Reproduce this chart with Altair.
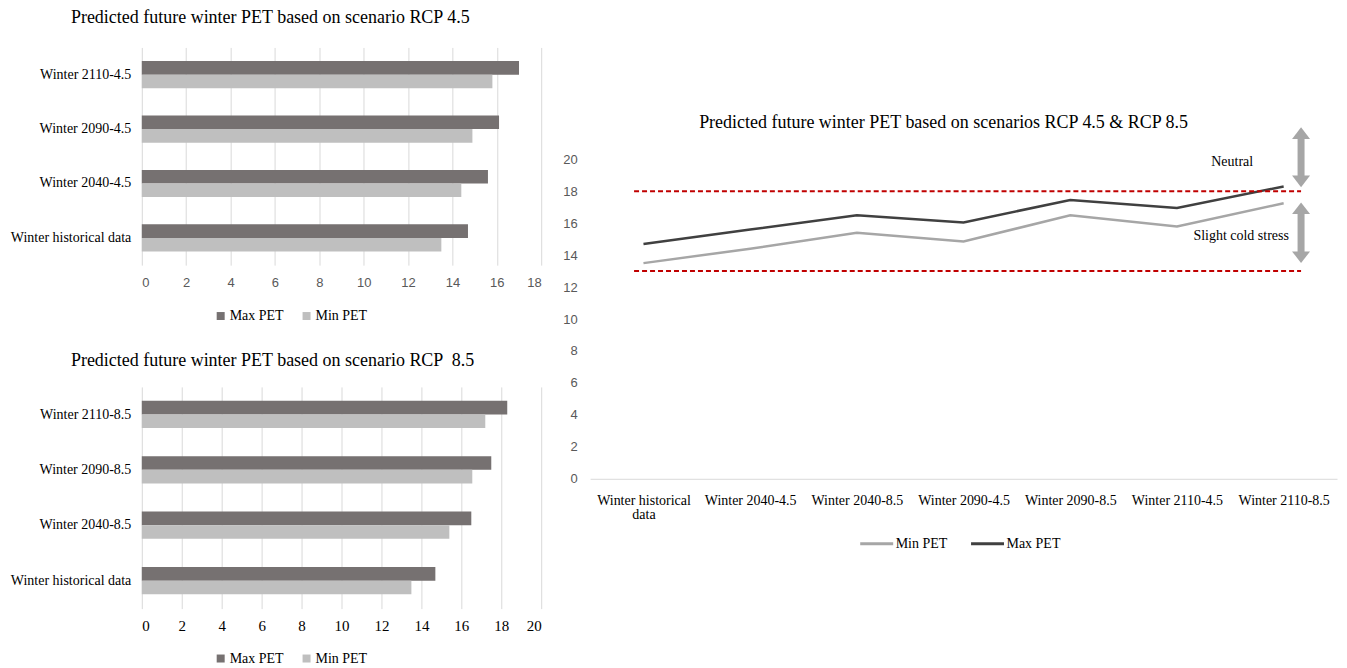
import altair as alt
import pandas as pd

series_names = ["Max PET", "Min PET"]

cats_45 = ["Winter 2110-4.5", "Winter 2090-4.5", "Winter 2040-4.5", "Winter historical data"]
max_45 = [17.0, 16.1, 15.6, 14.7]
min_45 = [15.8, 14.9, 14.4, 13.5]

cats_85 = ["Winter 2110-8.5", "Winter 2090-8.5", "Winter 2040-8.5", "Winter historical data"]
max_85 = [18.3, 17.5, 16.5, 14.7]
min_85 = [17.2, 16.55, 15.4, 13.5]

line_cats = ["Winter historical data", "Winter 2040-4.5", "Winter 2040-8.5", "Winter 2090-4.5",
             "Winter 2090-8.5", "Winter 2110-4.5", "Winter 2110-8.5"]
line_max = [14.7, 15.6, 16.5, 16.05, 17.45, 16.95, 18.3]
line_min = [13.5, 14.4, 15.4, 14.85, 16.5, 15.8, 17.25]
line_series = ["Min PET", "Max PET"]
line_ticks = [0, 2, 4, 6, 8, 10, 12, 14, 16, 18, 20]

comfort_bounds = [18, 13]
zone_labels = ["Neutral", "Slight cold stress"]
zone_label_y = [19.8, 15.2]
arrow_up_tips = [22.0, 17.3]
arrow_down_tips = [18.25, 13.5]
arrow_shaft_top = [21.4, 16.7]
arrow_shaft_bottom = [18.85, 14.1]

SERIF = "Liberation Serif"
SANS = "Liberation Sans"


def bar_chart(cats, maxv, minv, xmax, title, title_offset, tick_font, tick_size,
              tick_color, tick_pad, legend_y, h):
    rows = []
    for c, a, b in zip(cats, maxv, minv):
        rows.append({"cat": c, "series": series_names[0], "value": a})
        rows.append({"cat": c, "series": series_names[1], "value": b})
    df = pd.DataFrame(rows)
    return alt.Chart(df, title=alt.Title(
        title, font=SERIF, fontSize=18, fontWeight="normal", color="black",
        anchor="start", frame="group", dx=-71, offset=title_offset)).mark_bar().encode(
        x=alt.X("value:Q", scale=alt.Scale(domain=[0, xmax], nice=False),
                axis=alt.Axis(values=list(range(0, xmax + 1, 2)), title=None, domain=False,
                              ticks=False, grid=True, gridColor="#d9d9d9",
                              labelFont=tick_font, labelFontSize=tick_size,
                              labelColor=tick_color, labelPadding=tick_pad)),
        y=alt.Y("cat:N", sort=cats, scale=alt.Scale(paddingInner=0.5, paddingOuter=0.25),
                axis=alt.Axis(title=None, domain=False, ticks=False, labelFont=SERIF,
                              labelFontSize=14, labelColor="black", labelPadding=11,
                              labelLimit=0)),
        yOffset=alt.YOffset("series:N", sort=series_names),
        color=alt.Color("series:N",
                        scale=alt.Scale(domain=series_names, range=["#767171", "#bfbfbf"]),
                        legend=alt.Legend(orient="none", legendX=72, legendY=legend_y,
                                          direction="horizontal", title=None,
                                          symbolType="square", symbolSize=64,
                                          labelFont=SERIF, labelFontSize=14,
                                          labelColor="black", columnPadding=15,
                                          labelOffset=2)),
    ).properties(width=400, height=h)


top = bar_chart(cats_45, max_45, min_45, 18,
                "Predicted future winter PET based on scenario RCP 4.5", 20,
                SANS, 13, "#595959", 11, 262, 218)
bottom = bar_chart(cats_85, max_85, min_85, 20,
                   "Predicted future winter PET based on scenario RCP \u00a08.5", 17,
                   SERIF, 15, "black", 10, 265, 222)

# line chart
lrows = []
for c, a, b in zip(line_cats, line_max, line_min):
    lrows.append({"cat": c, "series": "Max PET", "value": a})
    lrows.append({"cat": c, "series": "Min PET", "value": b})
ldf = pd.DataFrame(lrows)

y_scale = alt.Scale(domain=[0, 20], nice=False)
y_axis = alt.Axis(values=line_ticks, title=None, domain=False, ticks=False, grid=False,
                  labelFont=SANS, labelFontSize=13, labelColor="#595959",
                  labelPadding=13, labelOverlap=False)

lines = alt.Chart(ldf).mark_line(strokeWidth=2.5).encode(
    x=alt.X("cat:N", sort=line_cats, scale=alt.Scale(padding=0.5),
            axis=alt.Axis(title=None, labelAngle=0, domainColor="#d9d9d9", ticks=False,
                          labelFont=SERIF, labelFontSize=14, labelColor="black",
                          labelPadding=15, labelLineHeight=14, labelLimit=0,
                          labelExpr="datum.value == 'Winter historical data' ? ['Winter historical', 'data'] : datum.value")),
    y=alt.Y("value:Q", scale=y_scale, axis=y_axis),
    color=alt.Color("series:N",
                    scale=alt.Scale(domain=line_series, range=["#a6a6a6", "#404040"]),
                    legend=alt.Legend(orient="none", legendX=269, legendY=367,
                                      direction="horizontal", title=None,
                                      symbolType="stroke", symbolSize=1089,
                                      symbolStrokeWidth=3, labelFont=SERIF,
                                      labelFontSize=14, labelColor="black",
                                      columnPadding=17, labelOffset=1)),
)

rules = alt.Chart(pd.DataFrame({"bound": comfort_bounds})).mark_rule(
    color="#c00000", strokeWidth=2, strokeDash=[5, 3]).encode(
    y=alt.Y("bound:Q", scale=y_scale, axis=y_axis), x=alt.value(44), x2=alt.value(712))

shafts = alt.Chart(pd.DataFrame({"y1": arrow_shaft_top, "y2": arrow_shaft_bottom})).mark_rule(
    color="#a6a6a6", strokeWidth=7).encode(
    x=alt.value(712), y=alt.Y("y1:Q", scale=y_scale, axis=y_axis), y2="y2:Q")

heads_up = alt.Chart(pd.DataFrame({"tip": arrow_up_tips})).mark_point(
    shape="M0,0L1,1.3L-1,1.3Z", filled=True, size=324, color="#a6a6a6", opacity=1).encode(
    x=alt.value(712), y=alt.Y("tip:Q", scale=y_scale, axis=y_axis))
heads_down = alt.Chart(pd.DataFrame({"tip": arrow_down_tips})).mark_point(
    shape="M0,0L1,-1.3L-1,-1.3Z", filled=True, size=324, color="#a6a6a6", opacity=1).encode(
    x=alt.value(712), y=alt.Y("tip:Q", scale=y_scale, axis=y_axis))

txt_df = pd.DataFrame({"label": zone_labels, "ty": zone_label_y})
txt_neutral = alt.Chart(txt_df.iloc[[0]]).mark_text(
    font=SERIF, fontSize=14, color="black").encode(
    x=alt.value(643), y=alt.Y("ty:Q", scale=y_scale, axis=y_axis), text="label:N")
txt_cold = alt.Chart(txt_df.iloc[[1]]).mark_text(
    font=SERIF, fontSize=14, color="black").encode(
    x=alt.value(652), y=alt.Y("ty:Q", scale=y_scale, axis=y_axis), text="label:N")

line_chart = alt.layer(lines, rules, shafts, heads_up, heads_down, txt_neutral, txt_cold).properties(
    width=748, height=320,
    title=alt.Title("Predicted future winter PET based on scenarios RCP 4.5 & RCP 8.5",
                    font=SERIF, fontSize=18, fontWeight="normal", color="black",
                    anchor="middle", frame="group", dx=-20, offset=0, dy=5))

spacer = alt.Chart(pd.DataFrame({"a": [0]})).mark_point(opacity=0).encode(
    x=alt.value(0), y=alt.value(0)).properties(width=748, height=112)

left = alt.vconcat(top, bottom, spacing=122, bounds="flush").resolve_scale(color="independent")
right = alt.vconcat(spacer, line_chart, spacing=0, bounds="flush").resolve_scale(color="independent")

chart = alt.hconcat(left, right, spacing=21).resolve_scale(
    color="independent").properties(
    padding={"left": 2, "top": 1, "right": 2, "bottom": 4},
    background="white"
).configure_view(stroke="transparent", strokeWidth=0).configure_axisY(labelOverlap=False)

chart.save("out.html", embed_options={"renderer": "svg", "actions": False})
